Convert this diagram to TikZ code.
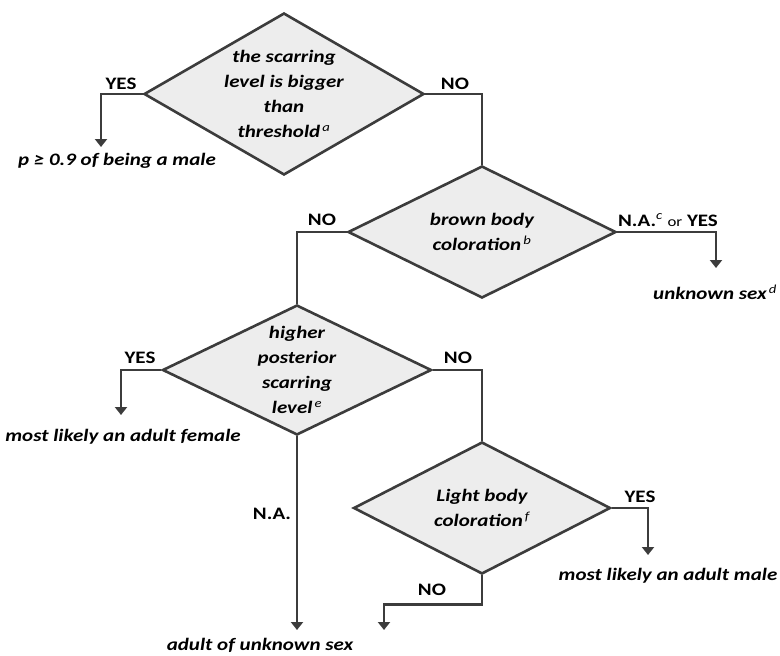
\documentclass[tikz,border=0pt]{standalone}
\usepackage{fontspec}
\setmainfont{Carlito}[FakeStretch=1.2]
\usetikzlibrary{shapes.geometric, arrows.meta, positioning}

\definecolor{linegray}{HTML}{3C3C3C}
\definecolor{boxgray}{HTML}{EDEDED}

\begin{document}
\begin{tikzpicture}[
            x=1pt, y=-1pt,
            decision/.style={diamond, draw=linegray, fill=boxgray, line width=2.6pt, inner sep=0pt},
            question/.style={align=center, inner sep=0pt, font=\bfseries\itshape\fontsize{17.5}{25}\selectfont},
            outcome/.style={inner sep=0pt, font=\bfseries\itshape\fontsize{17.5}{20}\selectfont},
            answer/.style={inner sep=0pt, font=\bfseries\fontsize{17.5}{20}\selectfont},
            link/.style={line width=2.6pt, draw=linegray},
            arrow/.style={link, -{Triangle[width=12pt,length=8pt]}}
        ]
            \useasboundingbox (0,0) rectangle (780,656);

            % decisions
            \node[decision, minimum width=280pt, minimum height=162pt,
                label={[question]center:the scarring\\level is bigger\\than\\threshold\textsuperscript{\mdseries\,a}}] (scar) at (284,94) {};
            \node[decision, minimum width=268pt, minimum height=132pt,
                label={[question]center:brown body\\coloration\textsuperscript{\mdseries\,b}}] (brown) at (482,232) {};
            \node[decision, minimum width=269pt, minimum height=130pt,
                label={[question]center:higher\\posterior\\scarring\\level\textsuperscript{\mdseries\,e}}] (post) at (297,370) {};
            \node[decision, minimum width=257pt, minimum height=132pt,
                label={[question]center:Light body\\coloration\textsuperscript{\mdseries\,f}}] (light) at (482,508) {};

            % outcomes
            \node[outcome] (male) at (117,161) {p ≥ 0.9 of being a male};
            \node[outcome] (unknown) at (715,292) {unknown sex\textsuperscript{\mdseries\,d}};
            \node[outcome] (female) at (123,437) {most likely an adult female};
            \node[outcome] (adultmale) at (668,576) {most likely an adult male};
            \node[outcome] (adult) at (260,645) {adult of unknown sex};

            \coordinate (tipmale) at (101,147);
            \coordinate (tipunknown) at (716,268);
            \coordinate (tipfemale) at (121,415);
            \coordinate (tipadultmale) at (648,555);
            \coordinate (tipadultA) at (297,630);
            \coordinate (tipadultB) at (384,630);

            % answers
            \node[answer] (yes1) at (121,84) {YES};
            \node[answer] (no1) at (455,84) {NO};
            \node[answer] (no2) at (322,220) {NO};
            \node[answer] (na2) at (668,220) {N.A.\textsuperscript{\mdseries\itshape c} {\mdseries\fontsize{14}{16}\selectfont or} YES};
            \node[answer] (yes3) at (140,358) {YES};
            \node[answer] (no3) at (458,358) {NO};
            \node[answer] (na3) at (272,514) {N.A.};
            \node[answer] (yes4) at (640,497) {YES};
            \node[answer] (no4) at (432,590) {NO};

            \draw[arrow] (scar.west) -| (tipmale);
            \draw[link] (scar.east) -| (brown.north);
            \draw[link] (brown.west) -| (post.north);
            \draw[arrow] (brown.east) -| (tipunknown);
            \draw[arrow] (post.west) -| (tipfemale);
            \draw[link] (post.east) -| (light.north);
            \draw[arrow] (post.south) -- (tipadultA);
            \draw[arrow] (light.east) -| (tipadultmale);
            \draw[arrow] (light.south) -- ++(0,29) -| (tipadultB);
        \end{tikzpicture}
\end{document}
